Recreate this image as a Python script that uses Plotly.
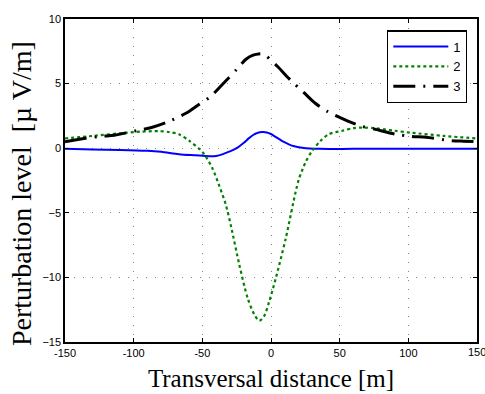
import plotly.graph_objects as go

x1 = [-150, -130, -110, -90, -80, -67, -55, -45, -40, -35, -30, -25, -20, -16, -13, -10, -6.5, -3, 0, 3, 6, 9, 13, 17, 22.7, 28, 35, 60, 100, 150]
y1 = [-0.05, -0.1, -0.13, -0.2, -0.28, -0.46, -0.55, -0.62, -0.6, -0.46, -0.25, 0.0, 0.4, 0.78, 1.02, 1.18, 1.25, 1.22, 1.1, 0.9, 0.7, 0.5, 0.3, 0.15, 0.04, -0.02, -0.05, -0.05, -0.05, -0.05]

x2 = [-150, -130, -110, -95, -82, -74, -67, -59.4, -52, -48.6, -42.5, -37.7, -32.8, -29.2, -23, -17, -12, -8.5, -5, -1.4, 3.4, 10.7, 17.9, 20.3, 25.1, 30, 36, 42, 52, 60, 66, 75, 90, 102, 126, 150]
y2 = [0.75, 0.95, 1.15, 1.28, 1.32, 1.25, 1.08, 0.56, -0.08, -0.46, -1.6, -2.9, -4.4, -6.0, -9.05, -11.6, -12.9, -13.35, -13.0, -11.9, -10.1, -7.0, -3.4, -2.4, -1.1, -0.2, 0.56, 1.08, 1.35, 1.55, 1.6, 1.55, 1.35, 1.2, 0.95, 0.75]

x3 = [-150, -135, -123, -114, -97, -87, -76, -62, -53, -44, -33, -25, -18, -13, -9, -5, -3, 5, 13, 24, 32, 41, 56, 66, 76, 91, 102, 113, 130, 140, 150]
y3 = [0.5, 0.77, 0.92, 1.0, 1.38, 1.6, 2.0, 2.7, 3.35, 4.0, 5.2, 6.1, 6.9, 7.2, 7.3, 7.25, 7.1, 6.3, 5.4, 4.3, 3.5, 2.85, 2.1, 1.7, 1.46, 1.08, 0.92, 0.85, 0.6, 0.54, 0.5]

names = ["1", "2", "3"]
xticks = [-150, -100, -50, 0, 50, 100, 150]
yticks = [-15, -10, -5, 0, 5, 10]

tickfont = dict(family="Liberation Sans, Arial", size=11, color="black")

fig = go.Figure()
fig.add_trace(go.Scatter(x=x1, y=y1, mode="lines", name=names[0], line=dict(color="#0000ff", width=2, shape="spline", smoothing=0.8)))
fig.add_trace(go.Scatter(x=x2, y=y2, mode="lines", name=names[1], line=dict(color="#008000", width=2.2, dash="3px,3px", shape="spline", smoothing=0.8)))
fig.add_trace(go.Scatter(x=x3, y=y3, mode="lines", name=names[2], line=dict(color="#000000", width=3, dash="22px,8px,2px,8px", shape="spline", smoothing=0.8)))

axis_common = dict(
    showline=True, linecolor="black", linewidth=1.5, mirror="ticks",
    ticks="inside", ticklen=4, tickcolor="black",
    showgrid=True, gridcolor="#888888", griddash="1px,8px", gridwidth=1,
    zeroline=False,
    tickfont=tickfont,
)

fig.update_xaxes(range=[-150, 150], tickvals=xticks,
                 ticktext=[str(v) for v in xticks[:-1]] + [""], **axis_common,
                 title=dict(text="Transversal distance [m]",
                            font=dict(family="Liberation Serif, Times New Roman", size=25, color="black"),
                            standoff=12))
fig.update_yaxes(range=[-15, 10], tickvals=yticks, **axis_common)

# last x tick label (plotly drops it at the page edge)
fig.add_annotation(text=str(xticks[-1]), xref="x", yref="paper", x=xticks[-1], y=0,
                   xanchor="center", yanchor="top", yshift=-2, showarrow=False, font=tickfont)

fig.add_annotation(text="Perturbation level  [µ V/m]", textangle=-90,
                   xref="paper", yref="paper", x=(22 - 65) / 414, y=(344 - 195) / 325,
                   xanchor="center", yanchor="middle", showarrow=False,
                   font=dict(family="Liberation Serif, Times New Roman", size=28, color="black"))

fig.update_layout(
    width=485, height=394,
    margin=dict(l=65, r=6, t=19, b=50),
    plot_bgcolor="white", paper_bgcolor="white",
    showlegend=True,
    legend=dict(x=0.976, y=0.965, xanchor="right", yanchor="top",
                bordercolor="black", borderwidth=1.2, bgcolor="white",
                font=dict(family="Liberation Sans, Arial", size=13, color="black"),
                tracegroupgap=0, itemwidth=55),
)

fig.write_html("out.html")
